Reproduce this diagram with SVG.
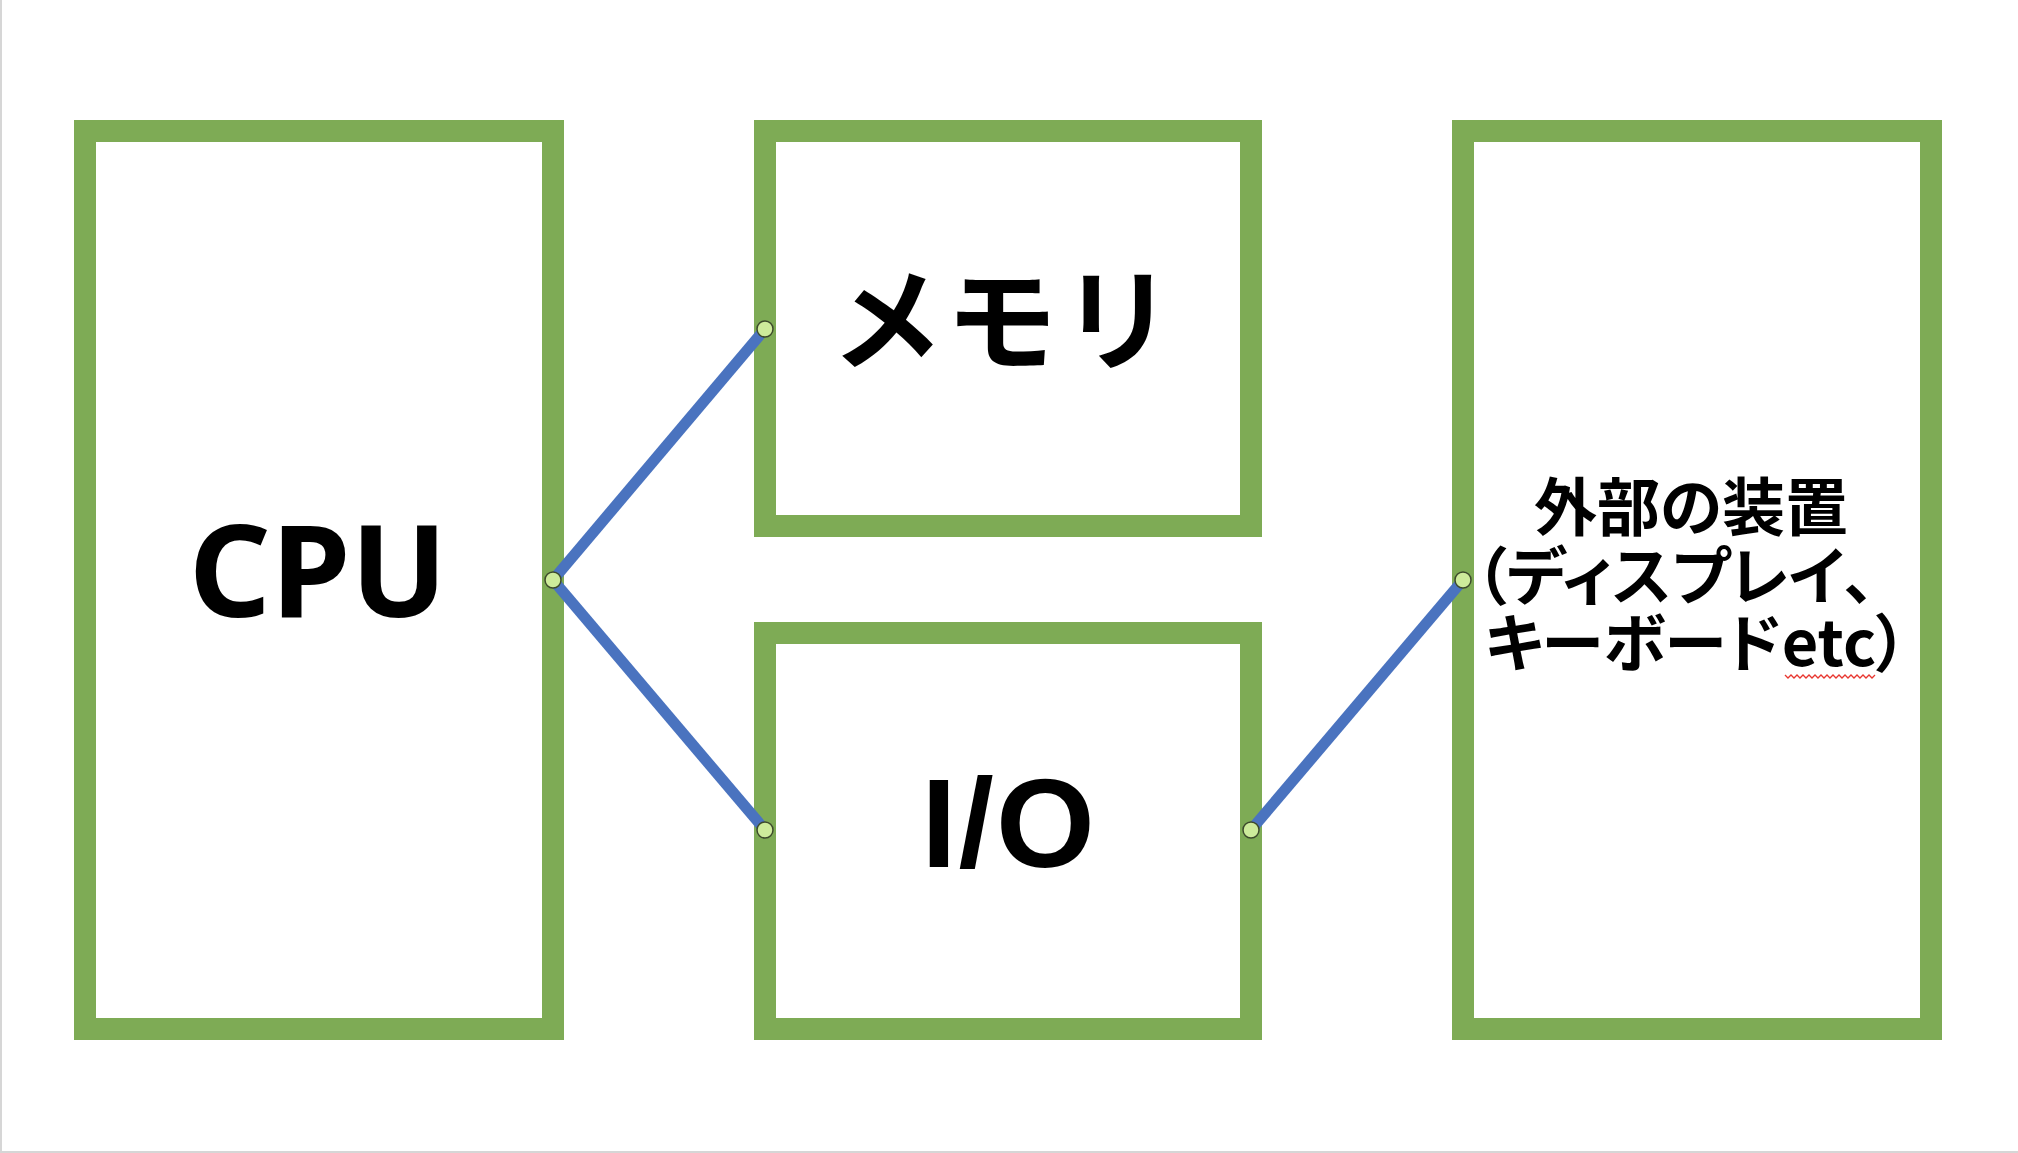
<svg xmlns="http://www.w3.org/2000/svg" width="2018" height="1153" viewBox="0 0 2018 1153">
<style>
.box{fill:#ffffff;stroke:#7eab55;stroke-width:22}
.lat{font-family:"Noto Sans","Liberation Sans",sans-serif;font-weight:bold;fill:#000}
.ar{font-family:"Liberation Sans",Arial,sans-serif;font-weight:bold;fill:#000}
.jp{font-family:"Noto Sans CJK JP","Noto Sans",sans-serif;font-weight:bold;fill:#000;font-feature-settings:"palt"}
.con{stroke:#4a73bf;stroke-width:11;stroke-linecap:butt;fill:none}
.pt{fill:#cdeb9b;stroke:#3d4a2c;stroke-width:1.5}
</style>
<rect x="0" y="0" width="2018" height="1153" fill="#ffffff"/>
<line x1="1" y1="0" x2="1" y2="1153" stroke="#d6d6d6" stroke-width="2"/>
<line x1="0" y1="1152" x2="2018" y2="1152" stroke="#d6d6d6" stroke-width="2"/>
<g id="cpu">
<rect class="box" x="85" y="131" width="468" height="898"/>
<text class="lat" x="318" y="617" font-size="128" text-anchor="middle">CPU</text>
</g>
<g id="memory">
<rect class="box" x="765" y="131" width="486" height="395"/>
<text class="jp" x="1007" y="362" font-size="112" text-anchor="middle" letter-spacing="12">メモリ</text>
</g>
<g id="io">
<rect class="box" x="765" y="633" width="486" height="396"/>
<text class="ar" x="1009" y="867" font-size="127" text-anchor="middle" letter-spacing="2">I/O</text>
</g>
<g id="external">
<rect class="box" x="1463" y="131" width="468" height="898"/>
<text class="jp" x="1691" y="530" font-size="63" text-anchor="middle">外部の装置</text>
<text class="jp" x="1675" y="599" font-size="63" text-anchor="middle">（ディスプレイ、</text>
<text class="jp" x="1696" y="666" font-size="63" text-anchor="middle">キーボードetc）</text>
<path d="M1785 675 l3 3 l3 -3 l3 3 l3 -3 l3 3 l3 -3 l3 3 l3 -3 l3 3 l3 -3 l3 3 l3 -3 l3 3 l3 -3 l3 3 l3 -3 l3 3 l3 -3 l3 3 l3 -3 l3 3 l3 -3 l3 3 l3 -3 l3 3 l3 -3 l3 3 l3 -3 l3 3 l3 -3" fill="none" stroke="#e8362f" stroke-width="1.3"/>
</g>
<g id="connectors">
<line class="con" x1="553" y1="580" x2="765" y2="329"/>
<line class="con" x1="553" y1="580" x2="765" y2="830"/>
<line class="con" x1="1251" y1="830" x2="1463" y2="580"/>
<circle class="pt" cx="553" cy="580" r="8"/>
<circle class="pt" cx="765" cy="329" r="8"/>
<circle class="pt" cx="765" cy="830" r="8"/>
<circle class="pt" cx="1251" cy="830" r="8"/>
<circle class="pt" cx="1463" cy="580" r="8"/>
</g>
</svg>
